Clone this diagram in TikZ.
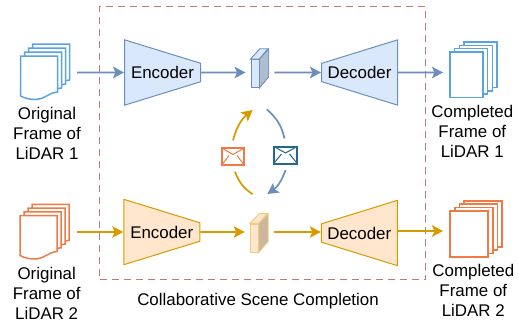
\documentclass[tikz,border=0pt]{standalone}
\usepackage{fontspec}
\setmainfont{Liberation Sans}
\usepackage[dvipsnames,svgnames]{xcolor}
\usetikzlibrary{arrows.meta,shapes,positioning,calc}

\definecolor{blueline}{HTML}{6C8EBF}
\definecolor{bluefill}{HTML}{DAE8FC}
\definecolor{blueside}{HTML}{B0BCD0}
\definecolor{orangeline}{HTML}{D79B00}
\definecolor{orangefill}{HTML}{FFE6CC}
\definecolor{orangeside}{HTML}{CCB79E}
\definecolor{pageblue}{HTML}{5BA3E0}
\definecolor{pageorange}{HTML}{EE7B45}
\definecolor{mailblue}{HTML}{23698F}
\definecolor{framered}{HTML}{B85450}

\newcommand{\wavepage}[3]{%
  \draw[line width=1.5pt, draw=#3, fill=white] (#1,#2) -- ++(37,0) -- ++(0,36)
    .. controls ++(-8,0.5) and ++(7,0) .. ++(-21,7.5)
    .. controls ++(-7,0) and ++(5,2.5) .. ++(-16,-3.5) -- cycle;
}

\begin{document}
\begin{tikzpicture}[x=1pt,y=-1pt,
  every node/.style={font=\fontsize{16.9}{20}\selectfont},
  flowblue/.style={draw=blueline, line width=1.9pt, -{Stealth[length=11pt,width=11.5pt,inset=2.5pt]}},
  floworange/.style={draw=orangeline, line width=1.9pt, -{Stealth[length=11pt,width=11.5pt,inset=2.5pt]}},
  linkblue/.style={draw=blueline, line width=1.7pt},
  linkorange/.style={draw=orangeline, line width=1.7pt},
  coder/.style={draw, line width=1pt, trapezium, trapezium stretches=true, trapezium angle=76,
    minimum width=65.5pt, minimum height=76pt, inner sep=0pt},
  encoder/.style={coder, shape border rotate=270},
  decoder/.style={coder, shape border rotate=90},
  cubeface/.style={draw, line width=0.9pt, rectangle, minimum width=8pt, minimum height=28pt, inner sep=0pt},
  sheet/.style={draw, line width=1.5pt, fill=white, rectangle, inner sep=0pt},
  mail/.style={draw, rectangle, fill=white, line width=2pt, minimum width=#1, minimum height=17pt, inner sep=0pt,
    path picture={
      \draw[line width=1pt] (path picture bounding box.north west) -- ($(path picture bounding box.center)+(0,-2)$) -- (path picture bounding box.north east);
      \draw[line width=1pt] (path picture bounding box.south west) -- ($(path picture bounding box.center)+(-4,-1)$);
      \draw[line width=1pt] (path picture bounding box.south east) -- ($(path picture bounding box.center)+(4,-1)$);
    }},
  framelabel/.style={align=center, inner sep=0pt}
  ]
  \useasboundingbox (0,0) rectangle (519,324);

  % Frame
  \node[draw=framered!80, dashed, dash pattern=on 7pt off 5pt, line width=1pt, rectangle, minimum width=326pt, minimum height=273.5pt, inner sep=0pt] (frame) at (262.5,143) {};
  \node[framelabel] (caption) at (258,301) {Collaborative Scene Completion};

  % Inputs
  \foreach \i in {3,2,1,0} {
    \wavepage{20.5+4*\i}{56-4*\i}{pageblue}
    \wavepage{20+4*\i}{215.5-3.7*\i}{pageorange}
  }
  \coordinate (org1) at (77,72.5);
  \coordinate (org2) at (77,232);
  \coordinate (cmp1) at (443,72.5);
  \coordinate (cmp2) at (443,231);
  \node[framelabel] (orgtxt1) at (47,133) {Original\\Frame of\\LiDAR 1};
  \node[framelabel] (orgtxt2) at (46.7,293) {Original\\Frame of\\LiDAR 2};

  % Outputs
  \foreach \i in {3,2,1,0} {
    \node[sheet, draw=pageblue, anchor=north west, minimum width=33pt, minimum height=45.5pt] (cmp1-\i) at (449+4.8*\i,51-3.2*\i) {};
    \node[sheet, draw=pageorange, anchor=north west, minimum width=38pt, minimum height=46pt] (cmp2-\i) at (449.4+4.67*\i,210-3.3*\i) {};
  }
  \node[framelabel] (cmptxt1) at (472.3,131) {Completed\\Frame of\\LiDAR 1};
  \node[framelabel] (cmptxt2) at (473.3,290) {Completed\\Frame of\\LiDAR 2};

  % Encoders and decoders
  \node[encoder, draw=blueline, fill=bluefill] (enc1) at (162.5,72.5) {Encoder};
  \node[decoder, draw=blueline, fill=bluefill] (dec1) at (359.5,72.5) {Decoder};
  \node[encoder, draw=orangeline, fill=orangefill] (enc2) at (161.8,232) {Encoder};
  \node[decoder, draw=orangeline, fill=orangefill] (dec2) at (359.3,233) {Decoder};

  % Features
  \node[cubeface, draw=blueline, fill=bluefill] (cube1) at (255,73.5) {};
  \draw[line width=0.9pt, draw=blueline, fill=bluefill] (cube1.north west) -- ++(9.3,-10.3) -- ++(8,0) -- (cube1.north east) -- cycle;
  \draw[line width=0.9pt, draw=blueline, fill=blueside] (cube1.north east) -- ++(9.3,-10.3) -- ++(0,28) -- (cube1.south east) -- cycle;
  \node[cubeface, draw=orangeline!50, fill=orangefill] (cube2) at (254.2,238) {};
  \draw[line width=0.9pt, draw=orangeline!50, fill=orangefill] (cube2.north west) -- ++(9.5,-10) -- ++(8,0) -- (cube2.north east) -- cycle;
  \draw[line width=0.9pt, draw=orangeline!50, fill=orangeside] (cube2.north east) -- ++(9.5,-10) -- ++(0,28) -- (cube2.south east) -- cycle;

  % Messages
  \node[mail=22.5pt, draw=pageorange, fill=white] (mailo) at (233,156.5) {};
  \node[mail=23.5pt, draw=mailblue, fill=white] (mailb) at (285.5,155) {};
  \coordinate (upin) at (252.7,110);
  \coordinate (upout) at (266.7,109.3);
  \coordinate (downin) at (252.7,194.3);
  \coordinate (downout) at (267.3,194);

  % Connectors
  \draw[flowblue] (org1) -- (enc1);
  \draw[flowblue] (enc1) -- ([xshift=-5pt]enc1 -| cube1.west);
  \draw[flowblue] ([xshift=15pt]enc1 -| cube1.east) -- (dec1);
  \draw[flowblue] (dec1) -- (cmp1);
  \draw[floworange] (org2) -- (enc2);
  \draw[floworange] (enc2) -- ([xshift=-5pt]enc2 -| cube2.west);
  \draw[floworange] ([xshift=15pt]enc2 -| cube2.east) -- (dec2.west |- enc2);
  \draw[floworange] ([yshift=2pt]dec2.east) -- (cmp2);

  \draw[linkorange, -{Stealth[length=11pt,width=11.5pt,inset=2.5pt]}] ([yshift=6.6pt]mailo.north) to[bend left=18] (upin);
  \draw[linkblue] (upout) to[bend left=18] ([yshift=7pt,xshift=-1pt]mailb.north);
  \draw[linkorange] (downin) to[bend left=18] ([yshift=-5.6pt,xshift=2pt]mailo.south);
  \draw[linkblue, -{Stealth[length=11pt,width=11.5pt,inset=2.5pt]}] ([yshift=-5.6pt]mailb.south) to[bend left=18] (downout);
\end{tikzpicture}
\end{document}
